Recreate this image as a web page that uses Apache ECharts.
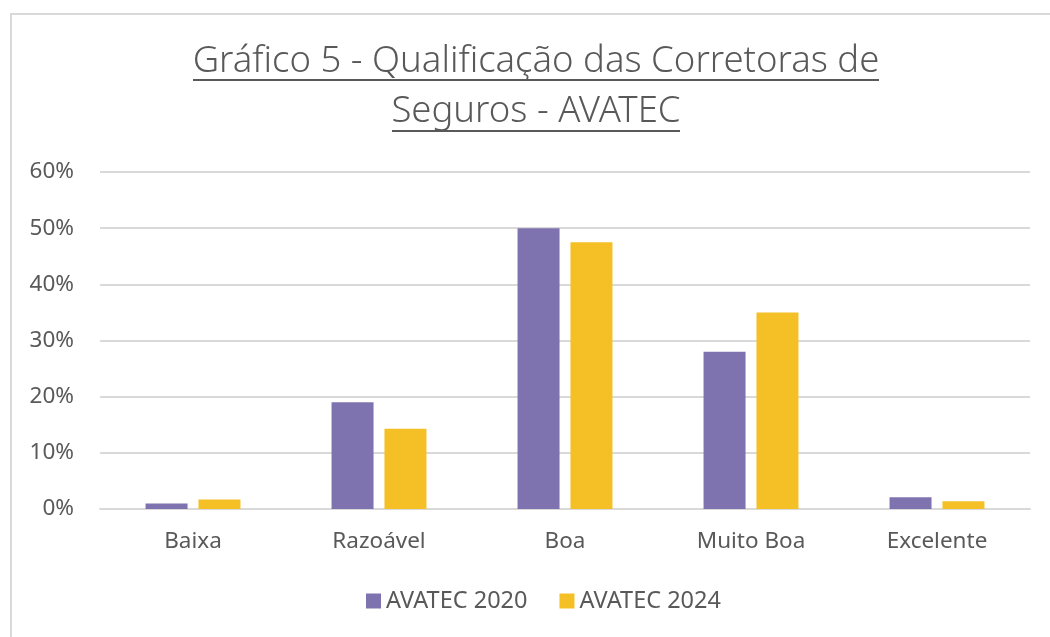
<!DOCTYPE html>
<html>
<head>
<meta charset="utf-8">
<script src="https://cdn.jsdelivr.net/npm/echarts@6/dist/echarts.min.js"></script>
<style>
  html, body { margin: 0; padding: 0; background: #fff; }
  #frame {
    position: absolute; left: 10px; top: 13px; width: 1100px; height: 700px;
    border-left: 2px solid #d9d9d9; border-top: 2px solid #d9d9d9;
  }
  #chart { position: absolute; left: 0; top: 0; width: 1050px; height: 637px; }
</style>
</head>
<body>
<div id="frame"></div>
<div id="chart"></div>
<script>
const categories = ["Baixa", "Razoável", "Boa", "Muito Boa", "Excelente"];
const avatec2020 = [1.0, 19.0, 50.0, 28.0, 2.1];
const avatec2024 = [1.7, 14.3, 47.5, 35.0, 1.4];
const yTicks = [0, 10, 20, 30, 40, 50, 60];

const font = "'Noto Sans', 'Open Sans', sans-serif";
const textGrey = "#595959";

const chart = echarts.init(document.getElementById("chart"));

chart.setOption({
  animation: false,
  title: {
    text: "Gráfico 5 - Qualificação das Corretoras de\nSeguros - AVATEC",
    left: 531,
    top: 32,
    textAlign: "center",
    textStyle: {
      fontFamily: font,
      fontSize: 36.5,
      fontWeight: 300,
      color: textGrey,
      lineHeight: 50
    }
  },
  // underline of the title (Excel style)
  graphic: [
    { type: "line", shape: { x1: 193, y1: 80, x2: 879, y2: 80 }, style: { stroke: textGrey, lineWidth: 2 } },
    { type: "line", shape: { x1: 392, y1: 131, x2: 680, y2: 131 }, style: { stroke: textGrey, lineWidth: 2 } }
  ],
  legend: {
    bottom: 19,
    left: 361,
    itemWidth: 15,
    itemHeight: 15,
    itemGap: 32,
    icon: "rect",
    textStyle: { fontFamily: font, fontSize: 23.5, color: textGrey }
  },
  grid: { left: 100, right: 20, top: 172, bottom: 128 },
  xAxis: {
    type: "category",
    data: categories,
    axisTick: { show: false },
    axisLine: { lineStyle: { color: "#d9d9d9", width: 2 } },
    axisLabel: { fontFamily: font, fontSize: 22.5, color: textGrey, margin: 21 }
  },
  yAxis: {
    type: "value",
    min: yTicks[0],
    max: yTicks[yTicks.length - 1],
    interval: 10,
    axisLine: { show: false },
    axisTick: { show: false },
    splitLine: { lineStyle: { color: "#d9d9d9", width: 2 } },
    axisLabel: {
      fontFamily: font, fontSize: 22.5, color: textGrey, margin: 26,
      formatter: v => v + "%"
    }
  },
  series: [
    {
      name: "AVATEC 2020",
      type: "bar",
      data: avatec2020,
      barWidth: 42,
      barGap: "26%",
      itemStyle: { color: "#7f73af" }
    },
    {
      name: "AVATEC 2024",
      type: "bar",
      data: avatec2024,
      barWidth: 42,
      itemStyle: { color: "#f4c025" }
    }
  ]
});
</script>
</body>
</html>
